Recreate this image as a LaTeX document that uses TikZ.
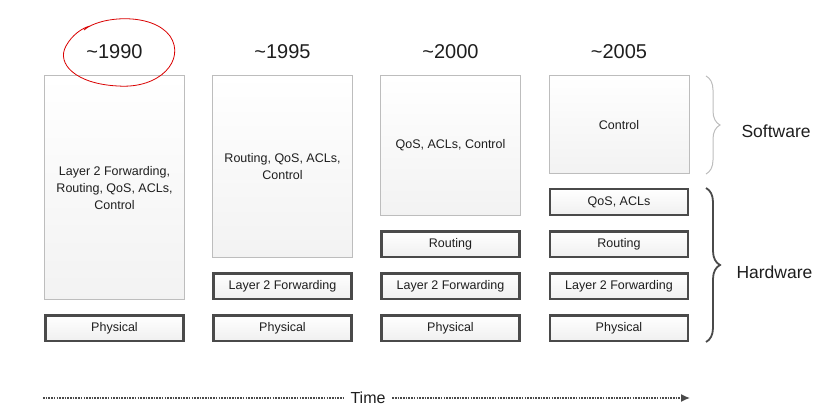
\documentclass[tikz,border=0pt]{standalone}
\usepackage{fontspec}
\setmainfont{Liberation Sans}
\usetikzlibrary{positioning}
\usetikzlibrary{arrows.meta}
\usetikzlibrary{decorations.pathreplacing}
\definecolor{boxline}{HTML}{4A4A4A}
\definecolor{softline}{HTML}{BDBDBD}
\definecolor{txt}{HTML}{1E1E1E}
\tikzset{
  layerbox/.style={draw=boxline, line width=2.5pt, top color=white, bottom color=gray!12,
    minimum width=138pt, minimum height=25.5pt, inner sep=0pt, text=txt,
    font=\fontsize{12.5}{15}\selectfont},
  bigbox/.style={draw=softline, line width=0.8pt, top color=white, bottom color=gray!10,
    minimum width=140pt, inner sep=0pt, align=center, text=txt,
    font=\fontsize{12.5}{17}\selectfont},
  yearlabel/.style={text=txt, font=\fontsize{20}{22}\selectfont},
  sidelabel/.style={text=txt, font=\fontsize{17.5}{20}\selectfont, anchor=west},
  timeline/.style={boxline, line width=1.4pt, dash pattern=on 1.6pt off 1.1pt},
}
\begin{document}
\begin{tikzpicture}[x=1pt, y=-1pt, node distance=14pt]
		\useasboundingbox (0,0) rectangle (825,417);
		% physical layer, one per column
		\node[layerbox] (phy1) at (114.5,328) {Physical};
		\node[layerbox] (phy2) at (282.5,328) {Physical};
		\node[layerbox] (phy3) at (450.5,328) {Physical};
		\node[layerbox] (phy4) at (619,328) {Physical};
		% hardware layers
		\node[layerbox, above=of phy2] (fwd2) {Layer 2 Forwarding};
		\node[layerbox, above=of phy3] (fwd3) {Layer 2 Forwarding};
		\node[layerbox, above=of fwd3] (rout3) {Routing};
		\node[layerbox, above=of phy4] (fwd4) {Layer 2 Forwarding};
		\node[layerbox, above=of fwd4] (rout4) {Routing};
		\node[layerbox, above=of rout4] (qos4) {QoS, ACLs};
		% software boxes
		\node[bigbox, minimum height=224pt, above=of phy1] (soft1) {Layer 2 Forwarding,\\Routing, QoS, ACLs,\\Control};
		\node[bigbox, minimum height=182pt, above=of fwd2] (soft2) {Routing, QoS, ACLs,\\Control};
		\node[bigbox, minimum height=140pt, above=of rout3] (soft3) {QoS, ACLs, Control};
		\node[bigbox, minimum height=98pt, above=of qos4] (soft4) {Control};
		% years
		\node[yearlabel] (y1990) at (114.5,52) {\textasciitilde1990};
		\node[yearlabel] (y1995) at (282.5,52) {\textasciitilde1995};
		\node[yearlabel] (y2000) at (450.5,52) {\textasciitilde2000};
		\node[yearlabel] (y2005) at (619,52) {\textasciitilde2005};
		\draw[red!85!black, line width=0.8pt] (84,30) .. controls (100,16) and (152,12) .. (170,36)
			.. controls (186,60) and (160,89) .. (118,86) .. controls (76,84) and (56,64) .. (66,46)
			.. controls (72,35) and (82,28) .. (90,26);
		% braces
		\coordinate (swtop) at (706,76);
		\coordinate (swbot) at (706,174);
		\coordinate (hwtop) at (706,188);
		\coordinate (hwbot) at (706,342);
		\draw[softline, line width=1pt, decorate, decoration={brace, amplitude=14pt}] (swtop) -- (swbot);
		\draw[boxline, line width=1.8pt, decorate, decoration={brace, amplitude=14pt}] (hwtop) -- (hwbot);
		\node[sidelabel] (sw) at (738,131) {Software};
		\node[sidelabel] (hw) at (733,272) {Hardware};
		% time axis
		\node[text=txt, font=\fontsize{16}{18}\selectfont, inner sep=0pt, minimum width=48pt] (time) at (368,398) {Time};
		\coordinate (tstart) at (43,398);
		\coordinate (tend) at (690,398);
		\draw[timeline] (tstart) -- (time.west);
		\draw[timeline, -{Latex[length=9pt, width=8pt]}] (time.east) -- (tend);
	\end{tikzpicture}
\end{document}
